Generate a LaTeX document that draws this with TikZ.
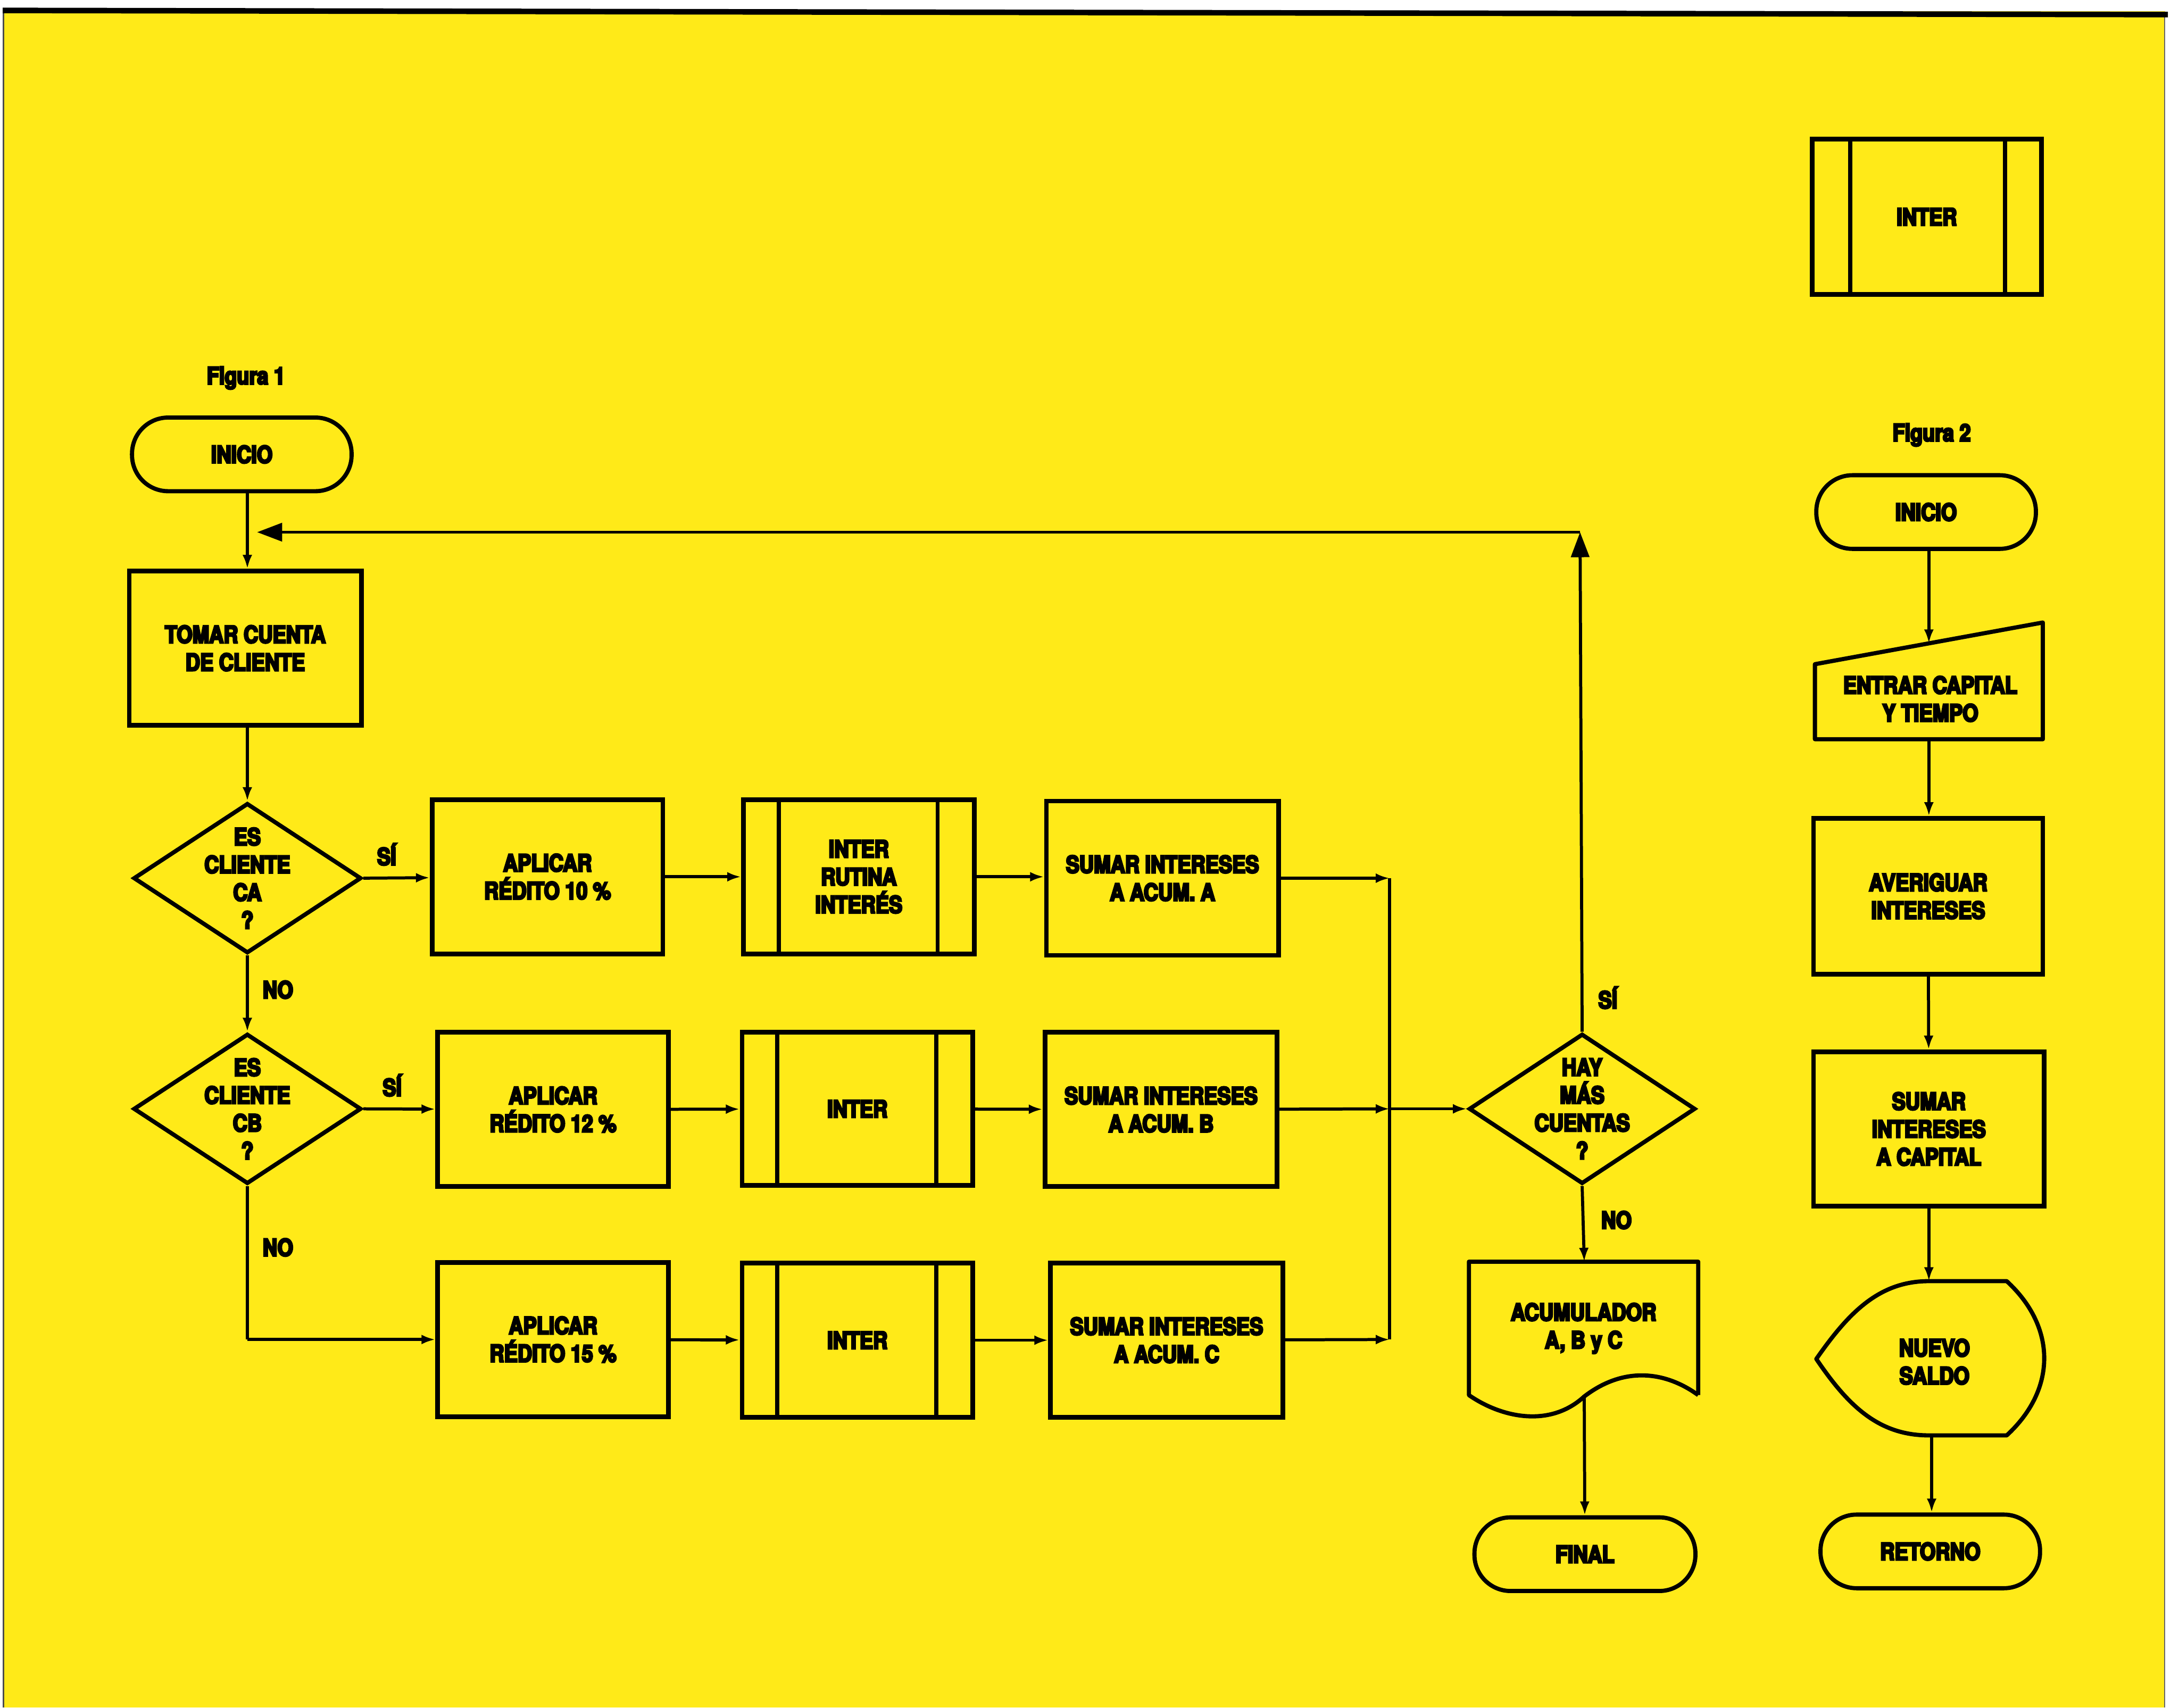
\documentclass[tikz,border=0pt]{standalone}
\usepackage{fontspec}
\newfontfamily\hv{texgyreheros-bold.otf}[FakeStretch=0.85,FakeBold=7]
\usetikzlibrary{arrows.meta,shapes.geometric,calc}
\definecolor{bgyellow}{RGB}{255,234,24}
\tikzset{
  lbl/.style={font=\hv\fontsize{17}{20}\selectfont, align=center, inner sep=0},
  proc/.style={lbl, draw, line width=3.4pt, minimum width=166pt, minimum height=111pt},
  term/.style={lbl, draw, line width=3pt, rounded corners=26pt, minimum width=158pt, minimum height=53pt},
  dec/.style={draw, diamond, line width=3pt, minimum width=164pt, minimum height=108pt, inner sep=0},
  outline/.style={line width=3pt, line join=round},
  sub/.style={line width=3pt},
  conn/.style={line width=2.2pt, -{Latex[length=10pt,width=7pt]}},
  plain/.style={line width=2.2pt},
  big/.style={line width=2.2pt, -{Triangle[length=18pt,width=13pt]}},
  ans/.style={lbl}
}
\begin{document}
\begin{tikzpicture}[x=1pt,y=-1pt]
\useasboundingbox (0,0) rectangle (1568,1229);
\fill[white] (0,0) rectangle (1568,1229);
\fill[bgyellow] (3,8) rectangle (1558,1229);
\draw[line width=0.8pt, black!70] (2.5,8) -- (2.5,1229);
\draw[line width=0.8pt, black!60] (1557.5,10) -- (1557.5,1229);
\draw[line width=4pt] (2,7.5) -- (1560,10.5);

% ---------------- Figura 1 ----------------
\node[lbl] (fig1) at (177,272) {Figura 1};
\node[term] (ini1) at (174,327) {INICIO};
\node[proc, minimum width=167pt] (tomar) at (176.5,466.5) {TOMAR CUENTA\\DE CLIENTE};
\node[dec, label={[lbl]center:ES\\CLIENTE\\CA\\?}] (d1) at (178,632) {};
\node[dec, label={[lbl]center:ES\\CLIENTE\\CB\\?}] (d2) at (178,798) {};

\node[proc] (ap10) at (394,631) {APLICAR\\RÉDITO 10 \%};
\node[proc] (int1) at (618,631) {INTER\\RUTINA\\INTERÉS};
\node[proc, minimum width=167pt] (sumA) at (836.5,632) {SUMAR INTERESES\\A ACUM. A};
\node[proc] (ap12) at (398,798.5) {APLICAR\\RÉDITO 12 \%};
\node[proc, minimum height=110pt] (int2) at (617,798) {INTER};
\node[proc, minimum width=167pt] (sumB) at (835.5,798.5) {SUMAR INTERESES\\A ACUM. B};
\node[proc] (ap15) at (398,964) {APLICAR\\RÉDITO 15 \%};
\node[proc] (int3) at (617,964.5) {INTER};
\node[proc, minimum width=167pt] (sumC) at (839.5,964.5) {SUMAR INTERESES\\A ACUM. C};

\foreach \n in {int1,int2,int3}{
  \draw[sub] ([xshift=27pt]\n.north west) -- ([xshift=27pt]\n.south west);
  \draw[sub] ([xshift=-28pt]\n.north east) -- ([xshift=-28pt]\n.south east);
}

\node[dec, minimum width=163pt, label={[lbl]center:HAY\\MÁS\\CUENTAS\\?}] (d3) at (1138.5,798) {};

% document shape
\node[lbl, minimum width=165pt, minimum height=96pt] (acum) at (1139.5,956) {ACUMULADOR\\A, B y C};
\draw[outline] (1222,1004) -- (1222,908) -- (1057,908) -- (1057,1004)
  .. controls (1080,1020) and (1115,1028) .. (1140,1005)
  .. controls (1170,982) and (1200,988) .. (1222,1004);
\coordinate (acumb) at (1140,1005);

\node[term, minimum width=159pt] (final) at (1140.5,1118.5) {FINAL};

% junction coordinates
\coordinate (jn) at (178,383);
\coordinate (loopc) at (1137,383);
\coordinate (jA) at (1000,632);
\coordinate (jB) at (1000,798);
\coordinate (jC) at (1000,964);
\coordinate (c15) at (178,964);

% connectors figure 1
\draw[conn] (ini1.south -| jn) -- (tomar.north -| jn);
\draw[big] (d3.north) -- (loopc);
\draw[big] (loopc) -- ([xshift=7pt]jn);
\draw[conn] (tomar.south -| d1) -- (d1.north);
\draw[conn] (d1) -- node[ans, right=10pt, pos=0.45] {NO} (d2);
\draw[conn] (d1.east) -- node[ans, above=8pt, pos=0.35] {SÍ} (ap10);
\draw[conn] (ap10) -- (int1);
\draw[conn] (int1) -- (sumA.west |- int1);
\draw[conn] (sumA.east |- jA) -- (jA);
\draw[plain] (jA) -- (jC);
\draw[conn] (d2.east) -- node[ans, above=8pt, pos=0.4] {SÍ} (ap12);
\draw[conn] (ap12) -- (int2);
\draw[conn] (int2) -- (sumB);
\draw[conn] (sumB) -- (jB);
\draw[conn] (jB) -- (d3.west);
\draw[plain] (d2.south) -- node[ans, right=10pt, pos=0.4] {NO} (c15);
\draw[conn] (c15) -- (ap15);
\draw[conn] (ap15) -- (int3);
\draw[conn] (int3) -- (sumC);
\draw[conn] (sumC) -- (jC);
\node[ans] (si3) at (1157,718) {SÍ};
\draw[conn] (d3.south) -- node[ans, right=12pt, pos=0.45] {NO} (acumb |- 908,908);
\draw[conn] (acumb) -- (final);

% ---------------- Figura 2 ----------------
\node[proc, minimum width=165pt, minimum height=112pt] (inter2) at (1386.5,156) {INTER};
\draw[sub] ([xshift=29pt]inter2.north west) -- ([xshift=29pt]inter2.south west);
\draw[sub] ([xshift=-28pt]inter2.north east) -- ([xshift=-28pt]inter2.south east);

\node[lbl] (fig2) at (1390,313) {Figura 2};
\node[term] (ini2) at (1386,368.5) {INICIO};

\node[lbl, minimum width=164pt, minimum height=40pt] (entrar) at (1389,503) {ENTRAR CAPITAL\\Y TIEMPO};
\draw[outline] (1306,478) -- (1470,448) -- (1470,532) -- (1306,532) -- cycle;
\coordinate (entrart) at (1388,463);
\coordinate (entrarb) at (1388,532);

\node[proc, minimum width=165pt, minimum height=112pt] (aver) at (1387.5,645) {AVERIGUAR\\INTERESES};
\node[proc] (sumK) at (1388,812.5) {SUMAR\\INTERESES\\A CAPITAL};

\node[lbl, minimum width=140pt, minimum height=60pt] (nuevo) at (1392,980) {NUEVO\\SALDO};
\draw[outline] (1307,978) .. controls (1330,945) and (1352,922) .. (1388,922)
  -- (1444,922) .. controls (1480,955) and (1480,1000) .. (1444,1033)
  -- (1388,1033) .. controls (1352,1033) and (1330,1012) .. (1307,978) -- cycle;
\coordinate (nuevot) at (1388,922);
\coordinate (nuevob) at (1390,1033);

\node[term] (ret) at (1389,1116.5) {RETORNO};

\draw[conn] (ini2.south -| entrart) -- (entrart);
\draw[conn] (entrarb) -- (aver.north -| entrarb);
\draw[conn] (aver) -- (sumK);
\draw[conn] (sumK.south) -- (nuevot);
\draw[conn] (nuevob) -- (ret.north -| nuevob);
\end{tikzpicture}
\end{document}
